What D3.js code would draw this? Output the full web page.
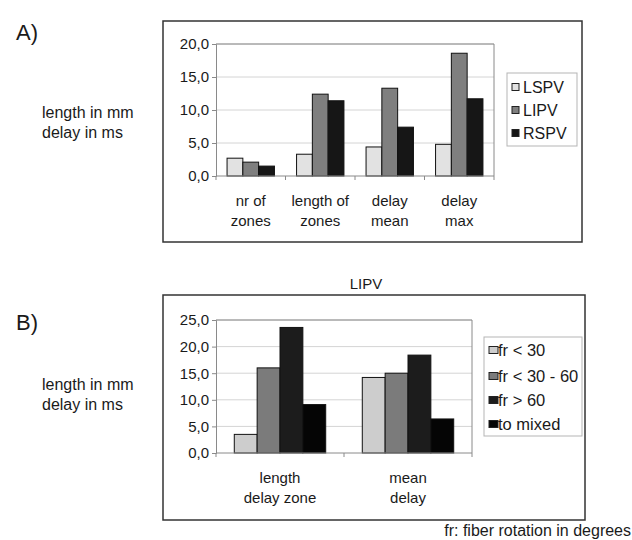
<!DOCTYPE html>
<html>
<head>
<meta charset="utf-8">
<script src="https://cdn.jsdelivr.net/npm/d3@7"></script>
<style>
  body { margin: 0; background: #fff; }
  svg { font-family: "Liberation Sans", Arial, sans-serif; }
  .tick text { font-size: 15px; fill: #1a1a1a; }
</style>
</head>
<body>
<div class="container"></div>
<script>
// panel A
const catsA = [["nr of", "zones"], ["length of", "zones"], ["delay", "mean"], ["delay", "max"]]
const seriesA = ["LSPV", "LIPV", "RSPV"]
const valuesA = {
    LSPV: [2.7, 3.3, 4.4, 4.8],
    LIPV: [2.1, 12.4, 13.3, 18.6],
    RSPV: [1.5, 11.4, 7.4, 11.7]
}
const ticksA = [0, 5, 10, 15, 20]
const colorsA = ['#e2e2e2', '#7f7f7f', '#161616']

// panel B
const catsB = [["length", "delay zone"], ["mean", "delay"]]
const seriesB = ["fr < 30", "fr < 30 - 60", "fr > 60", "to mixed"]
const valuesB = {
    "fr < 30": [3.5, 14.2],
    "fr < 30 - 60": [16.0, 15.0],
    "fr > 60": [23.6, 18.4],
    "to mixed": [9.1, 6.4]
}
const ticksB = [0, 5, 10, 15, 20, 25]
const colorsB = ['#cdcdcd', '#7b7b7b', '#1c1c1c', '#050505']

const w = 632
const h = 540
const fmt = (d) => d.toFixed(1).replace('.', ',')

const svg = d3.select(".container")
    .append("svg")
    .attr("width", w)
    .attr("height", h)

const drawPanel = (opt) => {
    const g = svg.append("g")

    // outer frame
    g.append("rect")
        .attr("x", opt.box[0]).attr("y", opt.box[1])
        .attr("width", opt.box[2] - opt.box[0]).attr("height", opt.box[3] - opt.box[1])
        .attr("fill", "none").attr("stroke", "#333").attr("stroke-width", 1.5)

    const xScale = d3.scaleBand().domain(d3.range(opt.cats.length)).range([opt.plot[0], opt.plot[2]])
    const yScale = d3.scaleLinear().domain([0, d3.max(opt.ticks)]).range([opt.plot[3], opt.plot[1]])
    const xInner = d3.scaleBand().domain(opt.series).range([0, xScale.bandwidth()]).paddingOuter(opt.outer)

    // grid
    g.selectAll(".grid")
        .data(opt.ticks.slice(1))
        .enter()
        .append("line")
        .attr("x1", opt.plot[0]).attr("x2", opt.plot[2])
        .attr("y1", (d) => yScale(d)).attr("y2", (d) => yScale(d))
        .attr("stroke", "#d4d4d4")

    // plot border (top and right)
    g.append("path")
        .attr("d", `M${opt.plot[0]},${opt.plot[1]}H${opt.plot[2]}V${opt.plot[3]}`)
        .attr("fill", "none").attr("stroke", "#8a8a8a")

    const yAxis = d3.axisLeft(yScale).tickValues(opt.ticks).tickFormat(fmt).tickSize(4).tickPadding(3)
    const ya = g.append("g")
        .attr("transform", "translate(" + opt.plot[0] + ",0)")
        .call(yAxis)
    ya.selectAll("line, path").attr("stroke", "#8a8a8a")

    // bars
    opt.series.forEach((s, i) => {
        g.selectAll(".bar" + i)
            .data(opt.values[s])
            .enter()
            .append("rect")
            .attr("x", (d, j) => xScale(j) + xInner(s))
            .attr("y", (d) => yScale(d))
            .attr("width", xInner.bandwidth())
            .attr("height", (d) => yScale(0) - yScale(d))
            .attr("fill", opt.colors[i])
            .attr("stroke", "#111")
            .attr("stroke-width", 1)
    })

    // x axis
    const xa = g.append("g").attr("transform", "translate(0," + opt.plot[3] + ")")
    xa.append("line").attr("x1", opt.plot[0]).attr("x2", opt.plot[2]).attr("stroke", "#8a8a8a")
    xa.selectAll(".xt")
        .data(d3.range(opt.cats.length + 1))
        .enter()
        .append("line")
        .attr("x1", (d) => opt.plot[0] + d * xScale.step())
        .attr("x2", (d) => opt.plot[0] + d * xScale.step())
        .attr("y1", 0).attr("y2", 4)
        .attr("stroke", "#8a8a8a")
    opt.cats.forEach((c, j) => {
        c.forEach((line, k) => {
            xa.append("text")
                .attr("x", xScale(j) + xScale.bandwidth() / 2)
                .attr("y", opt.labelY + k * opt.labelGap)
                .attr("text-anchor", "middle")
                .style("font-size", "15px")
                .attr("fill", "#1a1a1a")
                .text(line)
        })
    })

    // legend
    const lg = g.append("g")
    lg.append("rect")
        .attr("x", opt.legend[0]).attr("y", opt.legend[1])
        .attr("width", opt.legend[2] - opt.legend[0]).attr("height", opt.legend[3] - opt.legend[1])
        .attr("fill", "#fff").attr("stroke", "#b5b5b5")
    opt.series.forEach((s, i) => {
        const cy = opt.legendY[i]
        lg.append("rect")
            .attr("x", opt.legend[0] + 5).attr("y", cy - 3.5)
            .attr("width", opt.sw).attr("height", 7)
            .attr("fill", opt.colors[i]).attr("stroke", "#222")
        lg.append("text")
            .attr("x", opt.legend[0] + opt.textX).attr("y", cy + 6)
            .style("font-size", opt.legendFont)
            .attr("fill", "#1a1a1a")
            .text(s)
    })

    // side labels
    g.append("text").attr("x", 16).attr("y", opt.letterY)
        .style("font-size", "22px").attr("fill", "#1a1a1a").text(opt.letter)
    g.append("text").attr("x", 42).attr("y", opt.sideY)
        .style("font-size", "16px").attr("fill", "#1a1a1a").text("length in mm")
    g.append("text").attr("x", 42).attr("y", opt.sideY + 20)
        .style("font-size", "16px").attr("fill", "#1a1a1a").text("delay in ms")
}

drawPanel({
    cats: catsA, series: seriesA, values: valuesA, ticks: ticksA, colors: colorsA,
    box: [163, 21, 582, 242], plot: [216, 44, 494, 176], outer: 0.7,
    labelY: 30, labelGap: 20,
    legend: [507, 73, 577, 146], legendY: [87, 110, 133], textX: 16, sw: 7, legendFont: "16px",
    letter: "A)", letterY: 40, sideY: 118
})

drawPanel({
    cats: catsB, series: seriesB, values: valuesB, ticks: ticksB, colors: colorsB,
    box: [163, 295, 585, 520], plot: [216, 320, 472, 453], outer: 0.8,
    labelY: 30, labelGap: 20,
    legend: [484, 337, 582, 436], legendY: [350, 376, 400, 424], textX: 14, sw: 9, legendFont: "16.5px",
    letter: "B)", letterY: 330, sideY: 390
})

svg.append("text").attr("x", 366).attr("y", 289).attr("text-anchor", "middle")
    .style("font-size", "15px").attr("fill", "#1a1a1a").text("LIPV")
svg.append("text").attr("x", 631).attr("y", 536).attr("text-anchor", "end")
    .style("font-size", "16px").attr("fill", "#1a1a1a").text("fr: fiber rotation in degrees")
</script>
</body>
</html>
